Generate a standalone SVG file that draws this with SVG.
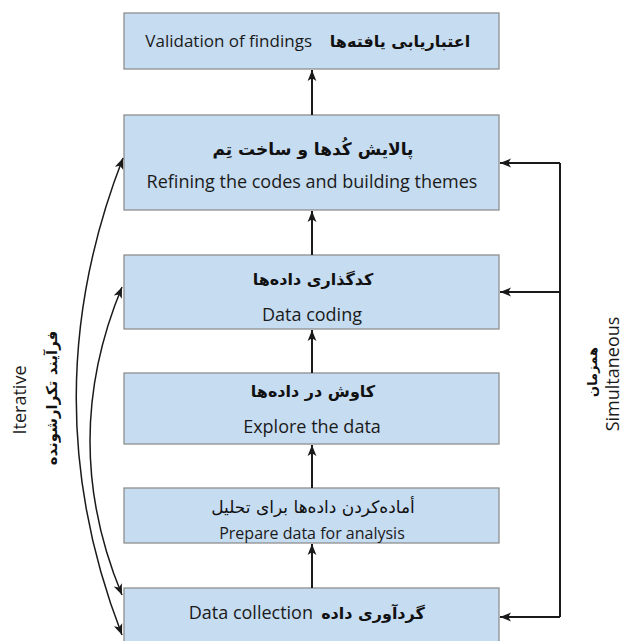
<svg xmlns="http://www.w3.org/2000/svg" width="629" height="641" viewBox="0 0 629 641">
<style>
.box{fill:#c6dcf1;stroke:#8f8f8f;stroke-width:1.3}
.en{font-family:"Open Sans","Liberation Sans",sans-serif;font-size:18px;fill:#1a1a1a}
.fa{font-family:"DejaVu Sans",sans-serif;font-size:16px;font-weight:bold;fill:#111}
.con{stroke:#1a1a1a;stroke-width:2;fill:none}
</style>
<defs>
<marker id="ah" viewBox="0 0 10 10" refX="10" refY="5" markerWidth="11" markerHeight="11" markerUnits="userSpaceOnUse" orient="auto-start-reverse">
<path d="M0,1 L10,5 L0,9 L2.5,5 Z" fill="#1a1a1a"/>
</marker>
</defs>
<rect width="629" height="641" fill="#fff"/>
<g id="n-validation">
<rect class="box" x="124" y="13" width="375" height="56"/>
<text class="en" x="312" y="47" text-anchor="end" style="font-size:17px">Validation of findings</text>
<text class="fa" x="400" y="47" text-anchor="middle">اعتباریابی یافته‌ها</text>
</g>
<g id="n-refining">
<rect class="box" x="124" y="115" width="375" height="95"/>
<text class="fa" x="313" y="155" text-anchor="middle" style="font-size:17px">پالایش کُدها و ساخت تِم</text>
<text class="en" x="312" y="188" text-anchor="middle">Refining the codes and building themes</text>
</g>
<g id="n-coding">
<rect class="box" x="124" y="255" width="375" height="74"/>
<text class="fa" x="313" y="285" text-anchor="middle">کدگذاری داده‌ها</text>
<text class="en" x="312" y="321" text-anchor="middle">Data coding</text>
</g>
<g id="n-explore">
<rect class="box" x="124" y="373" width="375" height="71"/>
<text class="fa" x="313" y="397" text-anchor="middle">کاوش در داده‌ها</text>
<text class="en" x="312" y="433" text-anchor="middle">Explore the data</text>
</g>
<g id="n-prepare">
<rect class="box" x="124" y="488" width="375" height="55"/>
<text class="fa" x="313" y="513" text-anchor="middle" style="font-weight:normal;font-size:17px">أماده‌کردن داده‌ها برای تحلیل</text>
<text class="en" x="312" y="539" text-anchor="middle" style="font-size:16px">Prepare data for analysis</text>
</g>
<g id="n-collection">
<rect class="box" x="124" y="588" width="375" height="60"/>
<text class="en" x="313" y="619" text-anchor="end">Data collection</text>
<text class="fa" x="373" y="619" text-anchor="middle">گردآوری داده</text>
</g>
<g id="label-iterative">
<text class="en" transform="translate(26,400) rotate(-90)" text-anchor="middle">Iterative</text>
<text class="fa" transform="translate(57,398) rotate(-90)" text-anchor="middle" style="font-size:15px">فرآیند تکرارشونده</text>
</g>
<g id="label-simultaneous">
<text class="fa" transform="translate(597,372) rotate(-90)" text-anchor="middle" style="font-size:13px">همزمان</text>
<text class="en" transform="translate(619,374) rotate(-90)" text-anchor="middle">Simultaneous</text>
</g>
<g id="connectors">
<line class="con" x1="312" y1="115" x2="312" y2="70" marker-end="url(#ah)"/>
<line class="con" x1="312" y1="255" x2="312" y2="211" marker-end="url(#ah)"/>
<line class="con" x1="312" y1="373" x2="312" y2="330" marker-end="url(#ah)"/>
<line class="con" x1="312" y1="488" x2="312" y2="445" marker-end="url(#ah)"/>
<line class="con" x1="312" y1="588" x2="312" y2="544" marker-end="url(#ah)"/>
<path class="con" d="M560,163 L560,617"/>
<line class="con" x1="560" y1="163" x2="500" y2="163" marker-end="url(#ah)"/>
<line class="con" x1="560" y1="292" x2="500" y2="292" marker-end="url(#ah)"/>
<line class="con" x1="560" y1="617" x2="500" y2="617" marker-end="url(#ah)"/>
<path class="con" style="stroke-width:1.5" d="M123,158 Q30,397 122,635" marker-start="url(#ah)" marker-end="url(#ah)"/>
<path class="con" style="stroke-width:1.5" d="M122,287 Q58,441 122,595" marker-start="url(#ah)" marker-end="url(#ah)"/>
</g>
</svg>
